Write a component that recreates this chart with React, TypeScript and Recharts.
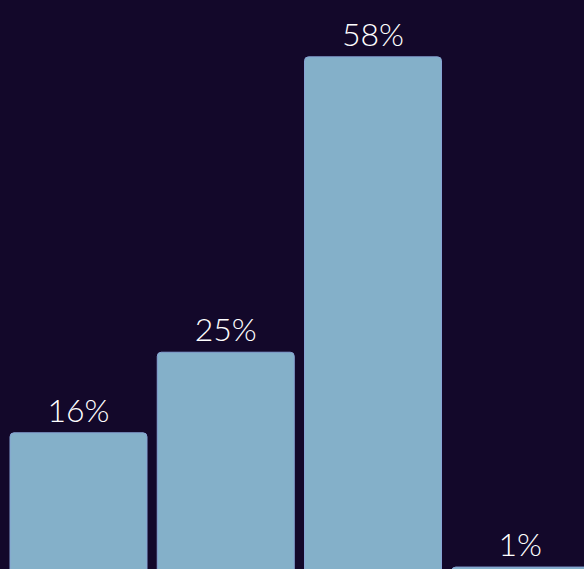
import { BarChart, Bar, XAxis, YAxis, LabelList } from "recharts";

const categories = ["A", "B", "C", "D"];
const shares = [16, 25, 58, 1];

const data = categories.map((name, i) => ({ name, value: shares[i] }));

const toPercent = (v: number) => `${v}%`;

export default function App() {
  return (
    <div
      style={{
        position: "fixed",
        top: 0,
        left: 0,
        width: 584,
        height: 569,
        overflow: "hidden",
        background: "#13082a",
      }}
    >
      <BarChart
        width={594}
        height={576}
        data={data}
        margin={{ top: 0, right: 0, left: 5, bottom: 0 }}
        barCategoryGap={5}
      >
        <XAxis dataKey="name" hide />
        <YAxis domain={[0, 64.35]} hide />
        <Bar
          dataKey="value"
          fill="#84b0c9"
          stroke="#86a3d4"
          strokeWidth={1}
          radius={[4, 4, 0, 0]}
          isAnimationActive={false}
        >
          <LabelList
            dataKey="value"
            position="top"
            offset={11}
            formatter={toPercent}
            fill="#ffffff"
            style={{ fontFamily: "Lato", fontSize: 32, fontWeight: 300 }}
          />
        </Bar>
      </BarChart>
    </div>
  );
}
